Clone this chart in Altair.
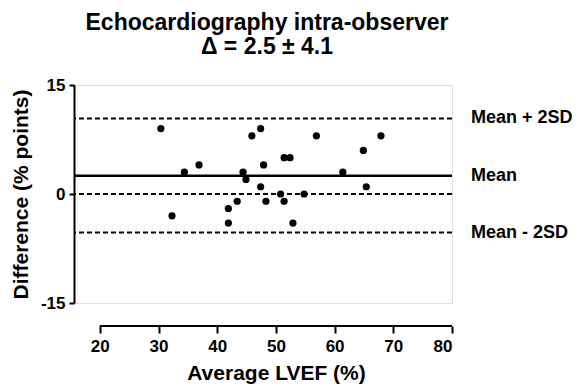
import altair as alt
import pandas as pd

# Bland-Altman data
avg_lvef = [30.4, 32.3, 34.4, 36.9, 41.9, 41.9, 43.4, 44.4, 44.9, 45.9, 47.4, 47.9,
            47.4, 48.3, 50.8, 51.4, 52.4, 51.4, 52.9, 54.8, 56.9, 61.4, 64.9, 65.4, 67.9]
difference = [9, -3, 3, 4, -2, -4, -1, 3, 2, 8, 9, 4,
              1, -1, 0, 5, 5, -1, -4, 0, 8, 3, 6, 1, 8]

line_names = ["Mean + 2SD", "Mean", "Zero", "Mean - 2SD"]
line_values = [10.4, 2.5, 0.0, -5.3]
line_dashed = [True, False, True, True]

x_ticks = [20, 30, 40, 50, 60, 70, 80]
y_ticks = [-15, 0, 15]

FONT = "Liberation Sans, Arial, sans-serif"
W, H = 378, 218

pts = pd.DataFrame({"avg": avg_lvef, "diff": difference})
lines = pd.DataFrame({"name": line_names, "value": line_values, "dashed": line_dashed})

xscale = alt.Scale(domain=[15.6, 80], nice=False, zero=False)
yscale = alt.Scale(domain=[-15, 15], nice=False, zero=False)

xaxis = alt.Axis(values=x_ticks, title="Average LVEF (%)", domain=False, grid=False,
                 offset=23, tickSize=7, tickWidth=2, tickColor="black",
                 labelFont=FONT, labelFontSize=17, labelFontWeight="bold", labelColor="black",
                 labelPadding=5, titleFont=FONT, titleFontSize=21, titleFontWeight="bold",
                 titleColor="black", titlePadding=8, titleX=202)
yaxis = alt.Axis(values=y_ticks, title="Difference (% points)", grid=False,
                 labelExpr="'' + datum.value",
                 domainColor="black", domainWidth=2, tickSize=5, tickWidth=2, tickColor="black",
                 labelFont=FONT, labelFontSize=17, labelFontWeight="bold", labelColor="black",
                 labelPadding=4, titleFont=FONT, titleFontSize=21, titleFontWeight="bold",
                 titleColor="black", titlePadding=9)

points = alt.Chart(pts).mark_circle(size=52, color="black", opacity=1).encode(
    x=alt.X("avg:Q", scale=xscale, axis=xaxis),
    y=alt.Y("diff:Q", scale=yscale, axis=yaxis),
)

dashed = alt.Chart(lines[lines["dashed"]]).mark_rule(
    color="black", strokeWidth=2, strokeDash=[5, 3]
).encode(y=alt.Y("value:Q", scale=yscale))

solid = alt.Chart(lines[~lines["dashed"]]).mark_rule(
    color="black", strokeWidth=2.5
).encode(y=alt.Y("value:Q", scale=yscale))

labels = alt.Chart(lines[lines["name"] != "Zero"]).mark_text(
    align="left", baseline="middle", dx=19, font=FONT, fontSize=18,
    fontWeight="bold", color="black"
).encode(x=alt.datum(80, scale=xscale), y=alt.Y("value:Q", scale=yscale), text="name:N")

xdomain = alt.Chart(pd.DataFrame({"a": [x_ticks[0]], "b": [x_ticks[-1]]})).mark_rule(
    color="black", strokeWidth=2
).encode(x=alt.X("a:Q", scale=xscale), x2="b:Q", y=alt.value(H + 23))

chart = alt.layer(dashed, solid, points, labels, xdomain).properties(
    width=W, height=H,
    title=alt.TitleParams(
        text=["Echocardiography intra-observer", "\u0394 = 2.5 \u00b1 4.1"],
        font=FONT, fontSize=23, fontWeight="bold", color="black",
        anchor="middle", lineHeight=24, offset=17, dx=4,
    ),
    autosize=alt.AutoSizeParams(type="none"),
    padding={"left": 74, "top": 85, "right": 126, "bottom": 83},
).configure_view(stroke=None).configure(background="white")

chart.save("out.html", embed_options={"renderer": "svg", "actions": False})
